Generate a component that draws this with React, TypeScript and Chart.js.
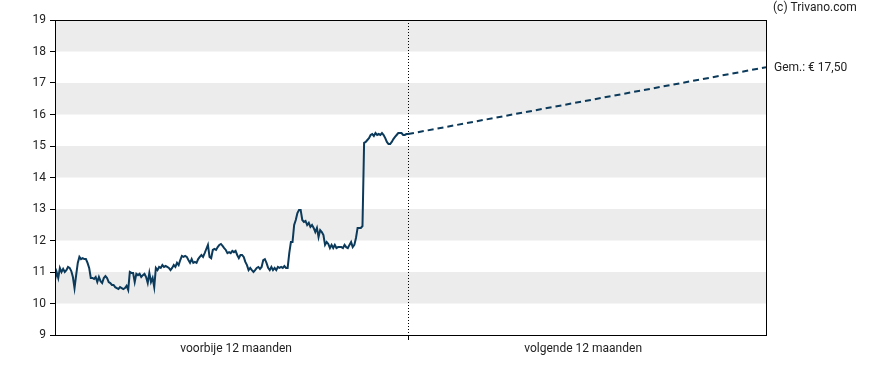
import React, { useEffect, useRef } from "react";
import { Chart, registerables } from "chart.js";

Chart.register(...registerables);

const pastPrices: number[] = [
  10.75, 11.0, 10.81, 11.13, 11.0, 11.1, 11.0, 11.06, 11.16, 11.13, 11.03, 10.84, 10.49, 10.9, 11.29, 11.48,
  11.41, 11.44, 11.41, 11.41, 11.29, 11.13, 10.81, 10.81, 10.78, 10.84, 10.68, 10.84, 10.71, 10.65, 10.81, 10.87,
  10.81, 10.68, 10.65, 10.59, 10.59, 10.52, 10.49, 10.46, 10.52, 10.49, 10.46, 10.49, 10.56, 10.43, 11.0, 10.97,
  10.97, 10.68, 10.94, 10.9, 10.94, 10.84, 10.9, 10.94, 10.84, 10.65, 10.97, 10.68, 10.81, 10.52, 11.13, 11.06,
  11.16, 11.13, 11.22, 11.16, 11.19, 11.16, 11.13, 11.06, 11.13, 11.22, 11.16, 11.29, 11.22, 11.38, 11.51, 11.48,
  11.51, 11.48, 11.38, 11.29, 11.41, 11.29, 11.32, 11.29, 11.41, 11.48, 11.54, 11.48, 11.6, 11.73, 11.86, 11.48,
  11.44, 11.7, 11.73, 11.7, 11.79, 11.86, 11.89, 11.83, 11.76, 11.7, 11.6, 11.63, 11.6, 11.67, 11.63, 11.67,
  11.54, 11.44, 11.54, 11.54, 11.48, 11.32, 11.22, 11.06, 11.13, 11.06, 11.0, 11.06, 11.13, 11.16, 11.1, 11.16,
  11.38, 11.41, 11.29, 11.13, 11.06, 11.16, 11.06, 11.13, 11.06, 11.16, 11.13, 11.16, 11.13, 11.19, 11.13, 11.13,
  11.6, 11.95, 11.95, 12.49, 12.65, 12.87, 12.97, 12.97, 12.65, 12.59, 12.62, 12.49, 12.56, 12.43, 12.49, 12.4,
  12.27, 12.4, 12.11, 12.33, 12.27, 12.17, 11.86, 11.95, 11.89, 11.76, 11.86, 11.76, 11.86, 11.76, 11.79, 11.79,
  11.79, 11.76, 11.86, 11.79, 11.76, 11.86, 11.95, 11.79, 11.86, 12.08, 12.4, 12.4, 12.4, 12.46, 15.1, 15.13,
  15.19, 15.25, 15.35, 15.38, 15.32, 15.41, 15.35, 15.38, 15.35, 15.41, 15.35, 15.25, 15.13, 15.06, 15.06, 15.13,
  15.22, 15.29, 15.35, 15.41, 15.41, 15.41, 15.35, 15.35, 15.38, 15.38,
];

const targetPrice = 17.5;
const targetLabel = "Gem.: € 17,50";
const periodLabels = ["voorbije 12 maanden", "volgende 12 maanden"];
const periodLabelPos = [0.513, 1.496];
const copyright = "(c) Trivano.com";
const yMin = 9;
const yMax = 19;
const xMax = 2.014;

const FONT = "Roboto, 'DejaVu Sans', sans-serif";
const LINE_COLOR = "#0b3a5b";

export default function App() {
  const ref = useRef<HTMLCanvasElement | null>(null);

  useEffect(() => {
    if (!ref.current) return;
    const n = pastPrices.length;
    const pastData = pastPrices.map((v, i) => ({ x: i / (n - 1), y: v }));
    const futureData = [
      { x: 1, y: pastPrices[n - 1] },
      { x: xMax, y: targetPrice },
    ];

    const decor = {
      id: "decor",
      beforeDatasetsDraw(chart: any) {
        const { ctx, chartArea: a, scales } = chart;
        const ys = scales.y;
        ctx.save();
        ctx.fillStyle = "#ececec";
        for (let v = 10; v < yMax; v += 2) {
          const top = ys.getPixelForValue(v + 1);
          const bot = ys.getPixelForValue(v);
          ctx.fillRect(a.left, top, a.right - a.left, bot - top);
        }
        const xm = Math.round(scales.x.getPixelForValue(1)) + 0.5;
        ctx.strokeStyle = "#000";
        ctx.lineWidth = 1;
        ctx.setLineDash([1, 2]);
        ctx.beginPath();
        ctx.moveTo(xm, a.top);
        ctx.lineTo(xm, a.bottom);
        ctx.stroke();
        ctx.restore();
      },
      afterDraw(chart: any) {
        const { ctx, chartArea: a, scales } = chart;
        ctx.save();
        ctx.strokeStyle = "#000";
        ctx.lineWidth = 1;
        ctx.setLineDash([]);
        ctx.strokeRect(Math.round(a.left) + 0.5, Math.round(a.top) + 0.5, Math.round(a.right - a.left), Math.round(a.bottom - a.top));
        ctx.fillStyle = "#222";
        ctx.font = `12px ${FONT}`;
        ctx.textAlign = "left";
        ctx.textBaseline = "middle";
        ctx.fillText(copyright, a.right + 7, 8);
        ctx.fillText(targetLabel, a.right + 8, scales.y.getPixelForValue(targetPrice) + 1);
        ctx.restore();
      },
    };

    const chart = new Chart(ref.current, {
      type: "line",
      data: {
        datasets: [
          {
            data: pastData,
            borderColor: LINE_COLOR,
            borderWidth: 2,
            pointRadius: 0,
            tension: 0,
            fill: false,
          },
          {
            data: futureData,
            borderColor: LINE_COLOR,
            borderWidth: 2,
            borderDash: [6, 4],
            pointRadius: 0,
            fill: false,
          },
        ],
      },
      options: {
        animation: false,
        responsive: false,
        maintainAspectRatio: false,
        layout: { padding: { top: 20, right: 122, left: 0, bottom: 0 } },
        plugins: { legend: { display: false }, tooltip: { enabled: false } },
        scales: {
          x: {
            type: "linear",
            min: 0,
            max: xMax,
            afterBuildTicks(scale: any) {
              scale.ticks = [{ value: periodLabelPos[0] }, { value: 1 }, { value: periodLabelPos[1] }];
            },
            afterFit(scale: any) {
              scale.height = 35;
            },
            ticks: {
              autoSkip: false,
              maxRotation: 0,
              color: "#222",
              font: { family: FONT, size: 12 },
              padding: 2,
              callback: (v: any) =>
                v === periodLabelPos[0] ? periodLabels[0] : v === periodLabelPos[1] ? periodLabels[1] : "",
            },
            grid: {
              drawOnChartArea: false,
              drawTicks: true,
              tickLength: 5,
              tickColor: (c: any) => (c.tick && c.tick.value === 1 ? "#000" : "rgba(0,0,0,0)"),
            },
            border: { display: true, color: "#000", width: 1 },
          },
          y: {
            min: yMin,
            max: yMax,
            afterFit(scale: any) {
              scale.width = 55;
            },
            ticks: {
              stepSize: 1,
              color: "#222",
              font: { family: FONT, size: 12 },
              padding: 4,
            },
            grid: {
              drawOnChartArea: false,
              drawTicks: true,
              tickLength: 5,
              color: "#000",
            },
            border: { display: true, color: "#000", width: 1 },
          },
        },
      },
      plugins: [decor],
    } as any);
    return () => chart.destroy();
  }, []);

  return (
    <div style={{ position: "fixed", left: 0, top: 0, width: 888, height: 370, background: "#fff" }}>
      <canvas ref={ref} width={888} height={370} style={{ width: 888, height: 370 }} />
    </div>
  );
}
